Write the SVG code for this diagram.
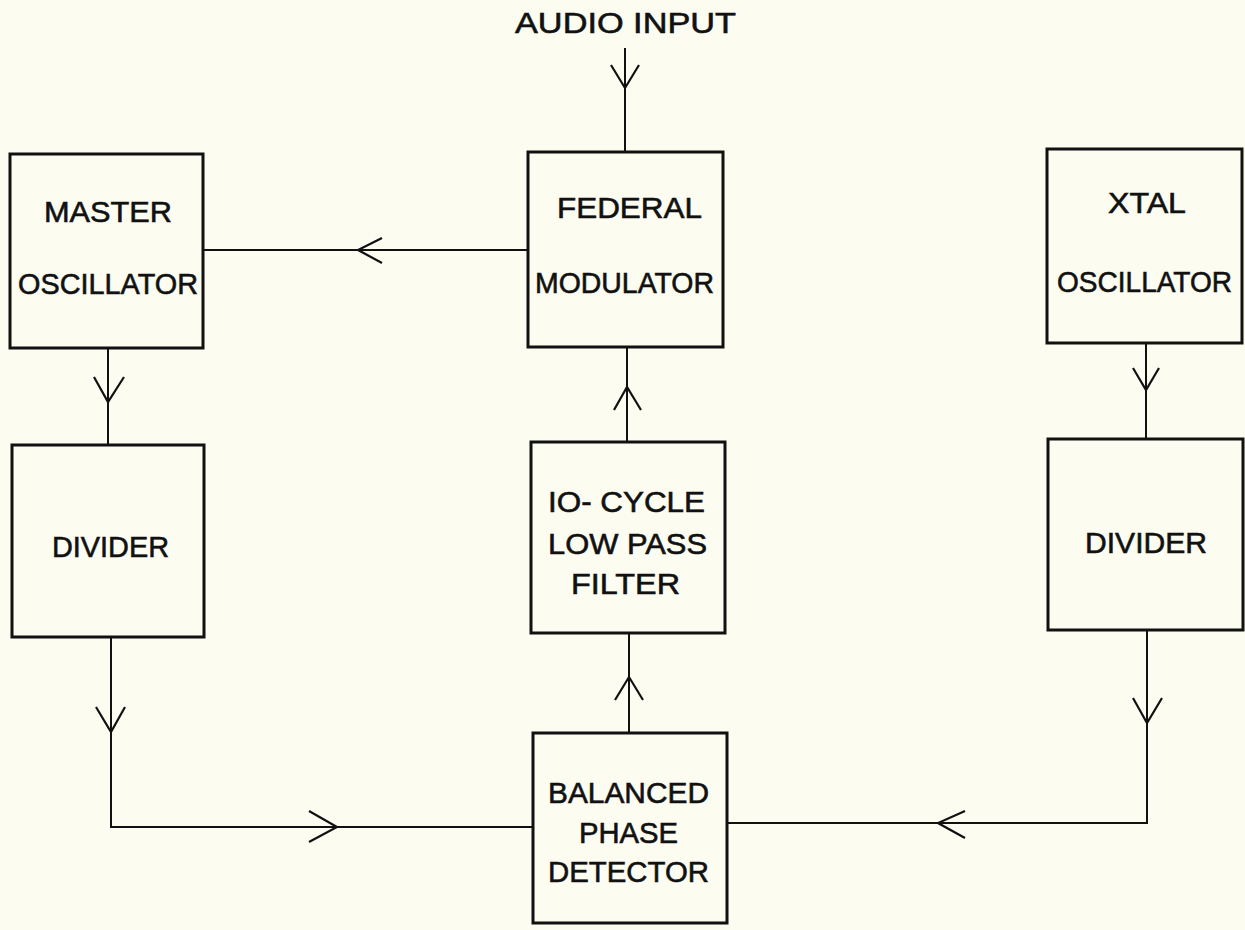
<svg xmlns="http://www.w3.org/2000/svg" width="1245" height="930" viewBox="0 0 1245 930">
<style>
.box{fill:none;stroke:#111;stroke-width:3}
.ln{fill:none;stroke:#111;stroke-width:2}
.ah{fill:none;stroke:#111;stroke-width:2.2;stroke-linejoin:miter}
text{font-family:"Liberation Sans",Arial,sans-serif;font-size:30px;fill:#111;stroke:#111;stroke-width:0.6;text-anchor:middle}
</style>
<rect width="1245" height="930" fill="#fcfcf1"/>
<g id="connectors">
<line class="ln" x1="528" y1="250" x2="203" y2="250"/>
<polyline class="ah" points="382,238 358,250 382,263"/>
<line class="ln" x1="625" y1="48" x2="625" y2="152"/>
<polyline class="ah" points="611,65 625,88 639,65"/>
<line class="ln" x1="108" y1="349" x2="108" y2="445"/>
<polyline class="ah" points="94,377 108,402 124,377"/>
<line class="ln" x1="627" y1="442" x2="627" y2="347"/>
<polyline class="ah" points="614,410 627,387 641,410"/>
<line class="ln" x1="629" y1="732" x2="629" y2="633"/>
<polyline class="ah" points="615,700 629,677 643,700"/>
<path class="ln" d="M111,637 V827 H533"/>
<polyline class="ah" points="96,707 111,732 125,707"/>
<polyline class="ah" points="309,811 337,827 309,842"/>
<line class="ln" x1="1146" y1="343" x2="1146" y2="439"/>
<polyline class="ah" points="1133,368 1146,390 1159,368"/>
<path class="ln" d="M1147,630 V823 H727"/>
<polyline class="ah" points="1133,698 1147,723 1162,698"/>
<polyline class="ah" points="965,811 938,823 965,838"/>
</g>
<g id="audio-input">
<text x="625.5" y="33" textLength="221" lengthAdjust="spacingAndGlyphs">AUDIO INPUT</text>
</g>
<g id="master-oscillator">
<rect class="box" x="10" y="154" width="193" height="194"/>
<text x="108" y="222" textLength="128" lengthAdjust="spacingAndGlyphs">MASTER</text>
<text x="108" y="294" textLength="180" lengthAdjust="spacingAndGlyphs">OSCILLATOR</text>
</g>
<g id="federal-modulator">
<rect class="box" x="528" y="152" width="195" height="195"/>
<text x="629.5" y="218" textLength="145" lengthAdjust="spacingAndGlyphs">FEDERAL</text>
<text x="624.5" y="293" textLength="179" lengthAdjust="spacingAndGlyphs">MODULATOR</text>
</g>
<g id="xtal-oscillator">
<rect class="box" x="1047" y="149" width="195" height="194"/>
<text x="1147" y="213" textLength="78" lengthAdjust="spacingAndGlyphs">XTAL</text>
<text x="1144.5" y="292" textLength="175" lengthAdjust="spacingAndGlyphs">OSCILLATOR</text>
</g>
<g id="divider-left">
<rect class="box" x="12" y="445" width="192" height="192"/>
<text x="110.5" y="557" textLength="117" lengthAdjust="spacingAndGlyphs">DIVIDER</text>
</g>
<g id="low-pass-filter">
<rect class="box" x="531" y="442" width="194" height="191"/>
<text x="626.5" y="512" textLength="157" lengthAdjust="spacingAndGlyphs">IO- CYCLE</text>
<text x="627.5" y="554" textLength="159" lengthAdjust="spacingAndGlyphs">LOW PASS</text>
<text x="625.5" y="594" textLength="109" lengthAdjust="spacingAndGlyphs">FILTER</text>
</g>
<g id="divider-right">
<rect class="box" x="1048" y="439" width="195" height="191"/>
<text x="1146" y="553" textLength="122" lengthAdjust="spacingAndGlyphs">DIVIDER</text>
</g>
<g id="balanced-phase-detector">
<rect class="box" x="533" y="733" width="194" height="190"/>
<text x="628.5" y="803" textLength="161" lengthAdjust="spacingAndGlyphs">BALANCED</text>
<text x="628.5" y="843" textLength="99" lengthAdjust="spacingAndGlyphs">PHASE</text>
<text x="628.5" y="882" textLength="161" lengthAdjust="spacingAndGlyphs">DETECTOR</text>
</g>
</svg>
